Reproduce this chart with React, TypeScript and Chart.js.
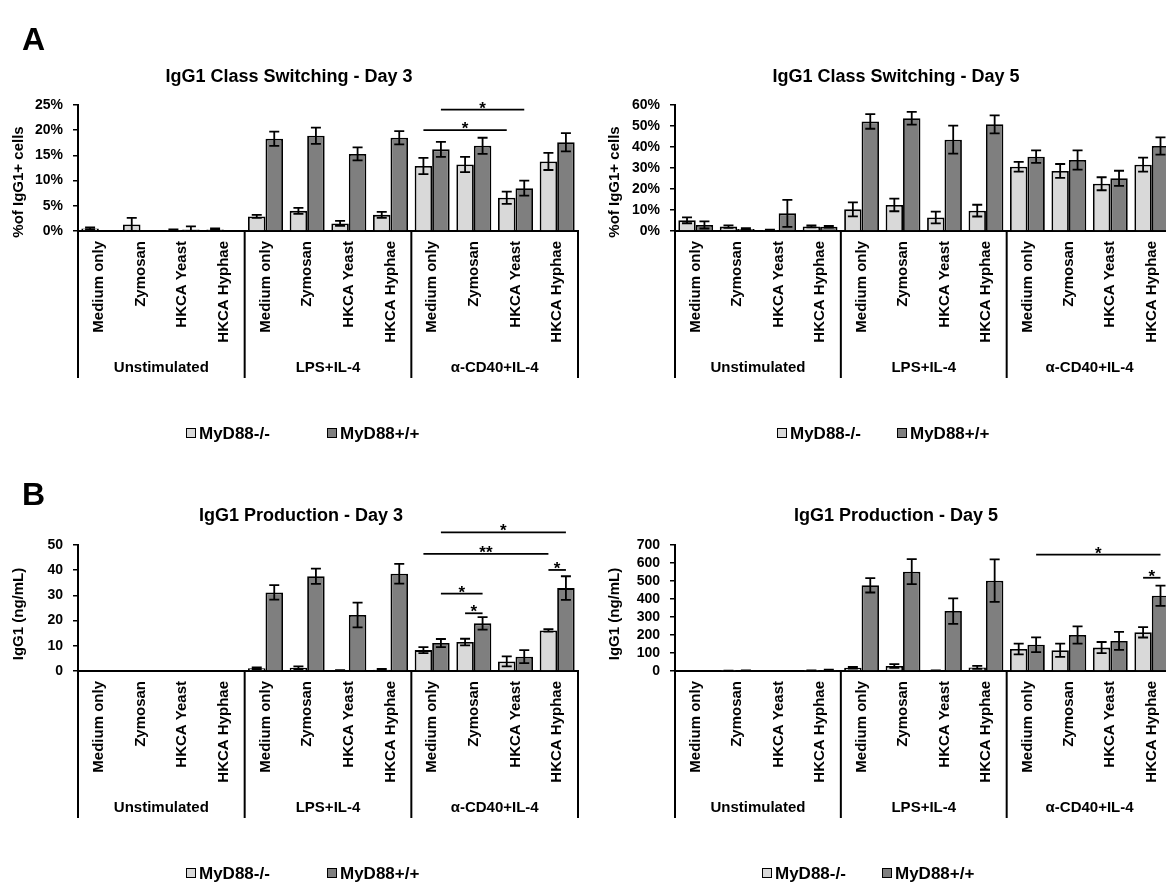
import React, { useEffect, useRef } from 'react';
import { Chart, registerables } from 'chart.js';

Chart.register(...registerables);

const FONT = "'Liberation Sans', Arial, Helvetica, sans-serif";

// ---------- DATA ----------
const treatments = ['Medium only', 'Zymosan', 'HKCA Yeast', 'HKCA Hyphae'];
const groups = ['Unstimulated', 'LPS+IL-4', 'α-CD40+IL-4'];
const categories = groups.flatMap(() => treatments);
const seriesNames = ['MyD88-/-', 'MyD88+/+'];

// A: IgG1 Class Switching - Day 3 (% of IgG1+ cells)
const switchDay3Ko = [0.5, 1.3, 0.2, 0.3, 2.9, 4.0, 1.5, 3.2, 12.9, 13.2, 6.6, 13.8];
const switchDay3KoErr = [0.2, 1.3, 0.1, 0.2, 0.3, 0.6, 0.5, 0.6, 1.6, 1.5, 1.2, 1.7];
const switchDay3Wt = [0.1, 0.1, 0.3, 0.1, 18.3, 18.9, 15.3, 18.5, 16.2, 16.9, 8.5, 17.6];
const switchDay3WtErr = [0, 0, 0.6, 0, 1.4, 1.6, 1.3, 1.3, 1.5, 1.6, 1.5, 1.8];
const switchDay3Ticks = [0, 5, 10, 15, 20, 25];
const switchDay3Sig = [
  { from: [8, 0], to: [10, 0], level: 20.0, mark: '*' },
  { from: [8, 1], to: [10, 1], level: 24.1, mark: '*' },
];

// A: IgG1 Class Switching - Day 5
const switchDay5Ko = [5.1, 2.1, 0.5, 2.2, 10.3, 12.4, 6.4, 9.7, 30.6, 28.6, 22.5, 31.6];
const switchDay5KoErr = [1.4, 0.6, 0.2, 0.5, 3.3, 3.0, 2.8, 2.8, 2.3, 3.3, 3.1, 3.3];
const switchDay5Wt = [2.9, 1.0, 8.4, 2.0, 52.2, 53.7, 43.5, 50.8, 35.4, 33.8, 25.1, 40.5];
const switchDay5WtErr = [1.7, 0.3, 6.4, 0.4, 3.5, 3.0, 6.7, 4.3, 3.0, 4.6, 3.6, 4.1];
const switchDay5Ticks = [0, 10, 20, 30, 40, 50, 60];
const switchDay5Sig: { from: number[]; to: number[]; level: number; mark: string }[] = [];

// B: IgG1 Production - Day 3 (ng/mL)
const prodDay3Ko = [0, 0, 0, 0, 1.1, 1.3, 0.2, 0.5, 8.3, 11.5, 3.8, 16.1];
const prodDay3KoErr = [0, 0, 0, 0, 0.3, 0.5, 0.1, 0.3, 1.2, 1.3, 2.0, 0.5];
const prodDay3Wt = [0, 0, 0, 0, 31.2, 37.6, 22.2, 38.6, 11.1, 18.9, 5.7, 32.9];
const prodDay3WtErr = [0, 0, 0, 0, 2.9, 3.0, 4.9, 3.9, 1.6, 2.5, 2.6, 4.7];
const prodDay3Ticks = [0, 10, 20, 30, 40, 50];
const prodDay3Sig = [
  { from: [8, 1], to: [11, 1], level: 55.0, mark: '*' },
  { from: [8, 0], to: [11, 0], level: 46.5, mark: '**' },
  { from: [8, 1], to: [9, 1], level: 30.7, mark: '*' },
  { from: [9, 0], to: [9, 1], level: 22.9, mark: '*' },
  { from: [11, 0], to: [11, 1], level: 40.1, mark: '*' },
];

// B: IgG1 Production - Day 5 (ng/mL)
const prodDay5Ko = [0, 1, 0, 2, 18, 28, 3, 20, 122, 115, 130, 215];
const prodDay5KoErr = [0, 0.5, 0, 1, 5, 10, 1, 8, 30, 37, 31, 29];
const prodDay5Wt = [0, 3, 0, 6, 476, 552, 333, 502, 146, 200, 167, 418];
const prodDay5WtErr = [0, 1, 0, 2, 40, 69, 71, 118, 41, 48, 50, 56];
const prodDay5Ticks = [0, 100, 200, 300, 400, 500, 600, 700];
const prodDay5Sig = [
  { from: [8, 1], to: [11, 1], level: 646, mark: '*' },
  { from: [11, 0], to: [11, 1], level: 518, mark: '*' },
];

// ---------- STYLE / LAYOUT ----------
const LIGHT = '#d9d9d9';
const DARK = '#7f7f7f';

type PanelCfg = {
  left: number; top: number; width: number; height: number;
  letter?: string; letterY?: number;
  title: string; titleX: number; titleY: number;
  yTitle: string; yTitleX: number; yTitleY: number;
  ticks: number[]; pct: boolean;
  ko: number[]; koErr: number[]; wt: number[]; wtErr: number[];
  sig: { from: number[]; to: number[]; level: number; mark: string }[];
  yAxisWidth: number; padRight: number; xHeight: number;
  sepBottom: number; groupY: number; legendY: number; legendX: number[];
};

const panels: PanelCfg[] = [
  {
    left: 0, top: 0, width: 590, height: 455, letter: 'A', letterY: 50,
    title: 'IgG1 Class Switching - Day 3', titleX: 289, titleY: 82,
    yTitle: '%of IgG1+ cells', yTitleX: 19, yTitleY: 182,
    ticks: switchDay3Ticks, pct: true,
    ko: switchDay3Ko, koErr: switchDay3KoErr, wt: switchDay3Wt, wtErr: switchDay3WtErr,
    sig: switchDay3Sig, yAxisWidth: 78, padRight: 12, xHeight: 224,
    sepBottom: 378, groupY: 372, legendY: 433, legendX: [186, 327],
  },
  {
    left: 590, top: 0, width: 590, height: 455,
    title: 'IgG1 Class Switching - Day 5', titleX: 306, titleY: 82,
    yTitle: '%of IgG1+ cells', yTitleX: 25, yTitleY: 182,
    ticks: switchDay5Ticks, pct: true,
    ko: switchDay5Ko, koErr: switchDay5KoErr, wt: switchDay5Wt, wtErr: switchDay5WtErr,
    sig: switchDay5Sig, yAxisWidth: 85, padRight: 5, xHeight: 224,
    sepBottom: 378, groupY: 372, legendY: 433, legendX: [187, 307],
  },
  {
    left: 0, top: 440, width: 590, height: 444, letter: 'B', letterY: 65,
    title: 'IgG1 Production - Day 3', titleX: 301, titleY: 81,
    yTitle: 'IgG1 (ng/mL)', yTitleX: 19, yTitleY: 174,
    ticks: prodDay3Ticks, pct: false,
    ko: prodDay3Ko, koErr: prodDay3KoErr, wt: prodDay3Wt, wtErr: prodDay3WtErr,
    sig: prodDay3Sig, yAxisWidth: 78, padRight: 12, xHeight: 213,
    sepBottom: 378, groupY: 372, legendY: 433, legendX: [186, 327],
  },
  {
    left: 590, top: 440, width: 590, height: 444,
    title: 'IgG1 Production - Day 5', titleX: 306, titleY: 81,
    yTitle: 'IgG1 (ng/mL)', yTitleX: 25, yTitleY: 174,
    ticks: prodDay5Ticks, pct: false,
    ko: prodDay5Ko, koErr: prodDay5KoErr, wt: prodDay5Wt, wtErr: prodDay5WtErr,
    sig: prodDay5Sig, yAxisWidth: 85, padRight: 5, xHeight: 213,
    sepBottom: 378, groupY: 372, legendY: 433, legendX: [172, 292],
  },
];

function makeDecor(cfg: PanelCfg) {
  const errs = [cfg.koErr, cfg.wtErr];
  return {
    id: 'decor',
    afterDatasetsDraw(chart: any) {
      const ctx = chart.ctx;
      const ys = chart.scales.y;
      ctx.save();
      ctx.strokeStyle = '#000';
      ctx.lineWidth = 1.8;
      errs.forEach((errArr, di) => {
        const meta = chart.getDatasetMeta(di);
        const vals = chart.data.datasets[di].data as number[];
        meta.data.forEach((el: any, j: number) => {
          const e = errArr[j];
          if (!e) return;
          const v = vals[j];
          const yt = ys.getPixelForValue(v + e);
          const yb = ys.getPixelForValue(Math.max(0, v - e));
          const x = el.x;
          ctx.beginPath();
          ctx.moveTo(x, yt); ctx.lineTo(x, yb);
          ctx.moveTo(x - 5, yt); ctx.lineTo(x + 5, yt);
          ctx.moveTo(x - 5, yb); ctx.lineTo(x + 5, yb);
          ctx.stroke();
        });
      });
      ctx.restore();
    },
    afterDraw(chart: any) {
      const ctx = chart.ctx;
      const xs = chart.scales.x;
      const ys = chart.scales.y;
      const area = chart.chartArea;
      ctx.save();
      ctx.fillStyle = '#000';
      ctx.strokeStyle = '#000';

      // panel letter
      if (cfg.letter) {
        ctx.font = `bold 32px ${FONT}`;
        ctx.textAlign = 'left';
        ctx.textBaseline = 'alphabetic';
        ctx.fillText(cfg.letter, 22, cfg.letterY);
      }
      // title
      ctx.font = `bold 18px ${FONT}`;
      ctx.textAlign = 'center';
      ctx.textBaseline = 'alphabetic';
      ctx.fillText(cfg.title, cfg.titleX, cfg.titleY);

      // y axis title
      ctx.save();
      ctx.translate(cfg.yTitleX, cfg.yTitleY);
      ctx.rotate(-Math.PI / 2);
      ctx.font = `bold 15px ${FONT}`;
      ctx.textAlign = 'center';
      ctx.textBaseline = 'middle';
      ctx.fillText(cfg.yTitle, 0, 0);
      ctx.restore();

      // group separators and labels
      const catW = xs.getPixelForValue(1) - xs.getPixelForValue(0);
      ctx.lineWidth = 2;
      for (let k = 0; k <= groups.length; k++) {
        const bx = xs.getPixelForValue(k * treatments.length) - catW / 2;
        ctx.beginPath();
        ctx.moveTo(bx, area.bottom);
        ctx.lineTo(bx, cfg.sepBottom);
        ctx.stroke();
      }
      ctx.font = `bold 15px ${FONT}`;
      ctx.textAlign = 'center';
      ctx.textBaseline = 'alphabetic';
      groups.forEach((g, k) => {
        const a = xs.getPixelForValue(k * treatments.length);
        const b = xs.getPixelForValue(k * treatments.length + treatments.length - 1);
        ctx.fillText(g, (a + b) / 2, cfg.groupY);
      });

      // significance lines
      ctx.lineWidth = 1.8;
      cfg.sig.forEach((s) => {
        const x1 = chart.getDatasetMeta(s.from[1]).data[s.from[0]].x;
        const x2 = chart.getDatasetMeta(s.to[1]).data[s.to[0]].x;
        const yy = ys.getPixelForValue(s.level);
        ctx.beginPath();
        ctx.moveTo(x1, yy);
        ctx.lineTo(x2, yy);
        ctx.stroke();
        ctx.font = `bold 17px ${FONT}`;
        ctx.textAlign = 'center';
        ctx.textBaseline = 'alphabetic';
        ctx.fillText(s.mark, (x1 + x2) / 2, yy + 4);
      });

      // legend
      const colors = [LIGHT, DARK];
      ctx.font = `bold 17px ${FONT}`;
      ctx.textAlign = 'left';
      ctx.textBaseline = 'middle';
      seriesNames.forEach((n, i) => {
        const lx = cfg.legendX[i];
        ctx.fillStyle = colors[i];
        ctx.fillRect(lx, cfg.legendY - 5, 10, 10);
        ctx.lineWidth = 1;
        ctx.strokeStyle = '#000';
        ctx.strokeRect(lx + 0.5, cfg.legendY - 4.5, 9, 9);
        ctx.fillStyle = '#000';
        ctx.fillText(n, lx + 13, cfg.legendY + 1);
      });
      ctx.restore();
    },
  };
}

function Panel({ cfg }: { cfg: PanelCfg }) {
  const ref = useRef<HTMLCanvasElement>(null);
  useEffect(() => {
    const t = cfg.ticks;
    const chart = new Chart(ref.current as HTMLCanvasElement, {
      type: 'bar',
      data: {
        labels: categories,
        datasets: [
          {
            label: seriesNames[0], data: cfg.ko, backgroundColor: LIGHT,
            borderColor: '#000', borderWidth: 1.8, categoryPercentage: 0.84, barPercentage: 1,
          },
          {
            label: seriesNames[1], data: cfg.wt, backgroundColor: DARK,
            borderColor: '#000', borderWidth: 1.8, categoryPercentage: 0.84, barPercentage: 1,
          },
        ],
      },
      options: {
        responsive: false,
        animation: false,
        layout: { padding: { left: 0, right: cfg.padRight, top: 105, bottom: 0 } },
        plugins: {
          legend: { display: false },
          title: { display: false },
          tooltip: { enabled: false },
        },
        scales: {
          x: {
            grid: { display: false, drawTicks: false },
            border: { display: true, color: '#000', width: 2 },
            ticks: {
              autoSkip: false, maxRotation: 90, minRotation: 90, padding: 10, color: '#000',
              font: { family: FONT, size: 15, weight: 'bold' },
            },
            afterFit: (s: any) => { s.height = cfg.xHeight; },
          },
          y: {
            min: t[0], max: t[t.length - 1],
            afterBuildTicks: (s: any) => { s.ticks = t.map((v) => ({ value: v })); },
            ticks: {
              autoSkip: false, stepSize: t[1] - t[0], padding: 10, color: '#000',
              font: { family: FONT, size: 14, weight: 'bold' },
              callback: (v: any) => (cfg.pct ? `${v}%` : `${v}`),
            },
            grid: { drawOnChartArea: false, drawTicks: true, tickLength: 5, color: '#000', lineWidth: 1.5 },
            border: { display: true, color: '#000', width: 2 },
            afterFit: (s: any) => { s.width = cfg.yAxisWidth; },
          },
        },
      } as any,
      plugins: [makeDecor(cfg)],
    });
    return () => chart.destroy();
  }, []);
  return (
    <canvas
      ref={ref}
      width={cfg.width}
      height={cfg.height}
      style={{ position: 'absolute', left: cfg.left, top: cfg.top, width: cfg.width, height: cfg.height }}
    />
  );
}

export default function App() {
  return (
    <div
      style={{
        position: 'fixed', left: 0, top: 0, width: 1166, height: 884,
        overflow: 'hidden', background: '#fff',
      }}
    >
      {panels.map((p, i) => (
        <Panel key={i} cfg={p} />
      ))}
    </div>
  );
}
